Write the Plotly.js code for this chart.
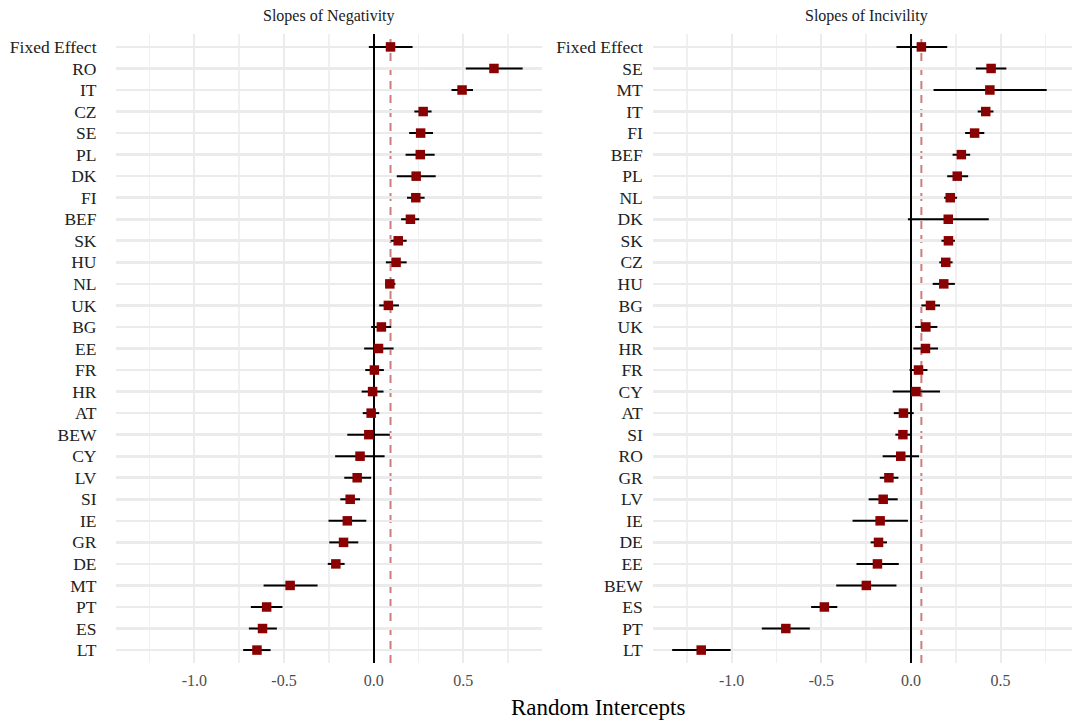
<!DOCTYPE html>
<html>
<head>
<meta charset="utf-8">
<script src="https://cdn.plot.ly/plotly-3.0.1.min.js"></script>
<style>html,body{margin:0;padding:0;background:#fff;}#chart{width:1072px;height:726px;}</style>
</head>
<body>
<div id="chart"></div>
<script>
// ---- Slopes of Negativity (left panel), top to bottom ----
const negLabels = ["Fixed Effect","RO","IT","CZ","SE","PL","DK","FI","BEF","SK","HU","NL","UK","BG","EE","FR","HR","AT","BEW","CY","LV","SI","IE","GR","DE","MT","PT","ES","LT"];
const negEst   = [0.094,0.671,0.493,0.276,0.262,0.260,0.237,0.235,0.205,0.137,0.125,0.090,0.082,0.043,0.027,0.004,-0.006,-0.014,-0.027,-0.076,-0.092,-0.131,-0.147,-0.168,-0.211,-0.466,-0.597,-0.620,-0.651];
const negLow   = [-0.027,0.514,0.434,0.227,0.198,0.178,0.129,0.186,0.153,0.094,0.068,0.065,0.031,-0.014,-0.053,-0.047,-0.067,-0.061,-0.147,-0.215,-0.164,-0.186,-0.252,-0.248,-0.256,-0.614,-0.685,-0.696,-0.728];
const negHigh  = [0.217,0.831,0.554,0.323,0.331,0.340,0.346,0.284,0.254,0.184,0.184,0.121,0.141,0.098,0.111,0.057,0.055,0.031,0.090,0.061,-0.014,-0.076,-0.041,-0.086,-0.162,-0.313,-0.509,-0.540,-0.575];

// ---- Slopes of Incivility (right panel), top to bottom ----
const incLabels = ["Fixed Effect","SE","MT","IT","FI","BEF","PL","NL","DK","SK","CZ","HU","BG","UK","HR","FR","CY","AT","SI","RO","GR","LV","IE","DE","EE","BEW","ES","PT","LT"];
const incEst   = [0.058,0.447,0.440,0.417,0.355,0.281,0.258,0.219,0.208,0.209,0.194,0.183,0.109,0.083,0.081,0.042,0.028,-0.042,-0.045,-0.057,-0.123,-0.155,-0.172,-0.181,-0.187,-0.249,-0.483,-0.698,-1.170];
const incLow   = [-0.081,0.362,0.126,0.372,0.302,0.232,0.202,0.185,-0.017,0.170,0.158,0.121,0.058,0.023,0.013,-0.008,-0.102,-0.096,-0.087,-0.158,-0.174,-0.236,-0.326,-0.225,-0.304,-0.417,-0.557,-0.832,-1.332];
const incHigh  = [0.202,0.532,0.757,0.460,0.409,0.330,0.319,0.257,0.434,0.245,0.232,0.245,0.162,0.147,0.151,0.092,0.162,0.015,-0.004,0.045,-0.070,-0.074,-0.017,-0.134,-0.068,-0.081,-0.411,-0.564,-1.006];

const panelTitles = ["Slopes of Negativity","Slopes of Incivility"];
const xTitle = "Random Intercepts";
const xTickVals = [-1.0,-0.5,0.0,0.5];
const xTickText = ["-1.0","-0.5","0.0","0.5"];
const xMinorVals = [-1.25,-0.75,-0.25,0.25,0.75];

const FONT = "Liberation Serif, 'DejaVu Serif', serif";
const W = 1072, H = 726;

function trace(labels, est, lo, hi, xa, ya){
  return {
    type:'scatter', mode:'markers', x: est, y: labels, xaxis: xa, yaxis: ya,
    marker:{symbol:'square', size:9.5, color:'#8b0000', line:{width:0}},
    error_x:{type:'data', symmetric:false,
      array: hi.map((h,i)=>h-est[i]), arrayminus: est.map((e,i)=>e-lo[i]),
      color:'#000', thickness:2, width:0},
    hoverinfo:'x+y', showlegend:false, cliponaxis:false
  };
}

function xaxisDef(domain, range, anchor){
  return {
    domain: domain, range: range, anchor: anchor,
    tickmode:'array', tickvals: xTickVals, ticktext: xTickText,
    showgrid:true, gridcolor:'#ebebeb', gridwidth:2,
    minor:{tickmode:'array', tickvals:xMinorVals, showgrid:true, gridcolor:'#f0f0f0', gridwidth:1.6, ticks:''},
    zeroline:true, zerolinecolor:'#000', zerolinewidth:2,
    showline:false, ticks:'', ticklabelstandoff:6,
    tickfont:{family:FONT, size:16, color:'#4d4d4d'}, fixedrange:true
  };
}
function yaxisDef(labels, anchor, standoff){
  return {
    type:'category', categoryorder:'array', categoryarray: labels.slice().reverse(),
    range:[-0.6, labels.length-0.4], anchor: anchor, domain:[0,1],
    showgrid:true, gridcolor:'#ebebeb', gridwidth:2.6, zeroline:false, showline:false, ticks:'',
    ticklabelstandoff: standoff,
    tickfont:{family:FONT, size:17.5, color:'#222'}, fixedrange:true
  };
}

const leftDom = [115.5/W, 542.2/W];
const rightDom = [652.8/W, 1];
const pxPerUnit = (542.2-115.5)/(0.94+1.44);
const rightMax = -1.44 + (W-652.8)/pxPerUnit;

const data = [
  trace(negLabels, negEst, negLow, negHigh, 'x', 'y'),
  trace(incLabels, incEst, incLow, incHigh, 'x2', 'y2')
];

const dashLine = {color:'rgba(190,80,80,0.75)', width:2, dash:'8px,6px'};

const layout = {
  width:W, height:H, paper_bgcolor:'#fff', plot_bgcolor:'#fff',
  margin:{l:0, r:0, t:34, b:62.5},
  font:{family:FONT},
  xaxis: xaxisDef(leftDom, [-1.44, 0.94], 'y'),
  yaxis: yaxisDef(negLabels, 'x', 18),
  xaxis2: xaxisDef(rightDom, [-1.44, rightMax], 'y2'),
  yaxis2: yaxisDef(incLabels, 'x2', 9),
  shapes:[
    {type:'line', xref:'x', yref:'y domain', x0:negEst[0], x1:negEst[0], y0:0, y1:1, line:dashLine, layer:'below'},
    {type:'line', xref:'x2', yref:'y2 domain', x0:incEst[0], x1:incEst[0], y0:0, y1:1, line:dashLine, layer:'below'}
  ],
  annotations:[
    {text:panelTitles[0], xref:'paper', yref:'paper', x:(115.5+542.2)/2/W, y:1-16/H, xanchor:'center', yanchor:'middle', showarrow:false, font:{family:FONT, size:16, color:'#1a1a1a'}},
    {text:panelTitles[1], xref:'paper', yref:'paper', x:(652.8+1081)/2/W, y:1-16/H, xanchor:'center', yanchor:'middle', showarrow:false, font:{family:FONT, size:16, color:'#1a1a1a'}},
    {text:xTitle, xref:'paper', yref:'paper', x:598/W, y:1-708/H, xanchor:'center', yanchor:'middle', showarrow:false, font:{family:FONT, size:23, color:'#000'}}
  ]
};
const plotH = H - layout.margin.t - layout.margin.b;
layout.annotations.forEach(a=>{
  const pxFromTop = (1-a.y)*H;
  a.y = (H - layout.margin.b - pxFromTop)/plotH;
});

Plotly.newPlot('chart', data, layout, {displayModeBar:false, staticPlot:true});
</script>
</body>
</html>
